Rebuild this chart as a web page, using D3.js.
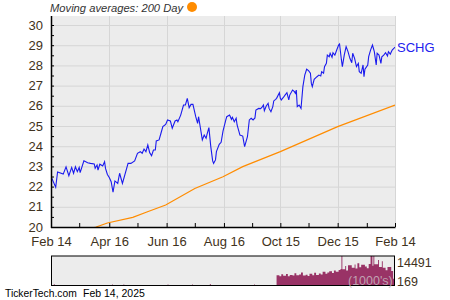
<!DOCTYPE html>
<html><head><meta charset="utf-8">
<script src="https://cdn.jsdelivr.net/npm/d3@7"></script>
<style>html,body{margin:0;padding:0;background:#fff;} svg{display:block;font-family:"Liberation Sans",Arial,sans-serif;}</style>
</head><body><svg id="c" width="450" height="300"></svg>
<script>
const priceDates = ["2024-02-14","2024-02-19","2024-02-21","2024-02-27","2024-03-01","2024-03-04","2024-03-07","2024-03-09","2024-03-11","2024-03-13","2024-03-15","2024-03-16","2024-03-20","2024-03-24","2024-03-27","2024-03-31","2024-04-01","2024-04-03","2024-04-04","2024-04-06","2024-04-09","2024-04-11","2024-04-12","2024-04-14","2024-04-16","2024-04-18","2024-04-20","2024-04-22","2024-04-25","2024-04-27","2024-04-30","2024-05-06","2024-05-09","2024-05-13","2024-05-16","2024-05-19","2024-05-21","2024-05-23","2024-05-25","2024-05-27","2024-05-29","2024-05-31","2024-06-02","2024-06-04","2024-06-05","2024-06-08","2024-06-10","2024-06-12","2024-06-15","2024-06-17","2024-06-20","2024-06-22","2024-06-25","2024-06-27","2024-06-28","2024-07-01","2024-07-04","2024-07-06","2024-07-08","2024-07-10","2024-07-12","2024-07-14","2024-07-17","2024-07-19","2024-07-20","2024-07-22","2024-07-24","2024-07-26","2024-07-28","2024-07-29","2024-07-31","2024-08-02","2024-08-04","2024-08-05","2024-08-07","2024-08-08","2024-08-11","2024-08-13","2024-08-15","2024-08-18","2024-08-19","2024-08-22","2024-08-24","2024-08-25","2024-08-27","2024-08-29","2024-08-30","2024-09-01","2024-09-02","2024-09-05","2024-09-07","2024-09-10","2024-09-12","2024-09-14","2024-09-16","2024-09-18","2024-09-19","2024-09-22","2024-09-24","2024-09-26","2024-09-27","2024-09-28","2024-09-30","2024-10-02","2024-10-03","2024-10-05","2024-10-07","2024-10-08","2024-10-10","2024-10-11","2024-10-14","2024-10-15","2024-10-16","2024-10-18","2024-10-20","2024-10-22","2024-10-24","2024-10-25","2024-10-28","2024-10-30","2024-10-31","2024-11-01","2024-11-02","2024-11-04","2024-11-06","2024-11-08","2024-11-10","2024-11-12","2024-11-14","2024-11-16","2024-11-17","2024-11-18","2024-11-20","2024-11-23","2024-11-25","2024-11-27","2024-11-28","2024-11-30","2024-12-01","2024-12-03","2024-12-04","2024-12-06","2024-12-07","2024-12-09","2024-12-10","2024-12-12","2024-12-14","2024-12-16","2024-12-17","2024-12-19","2024-12-20","2024-12-22","2024-12-24","2024-12-26","2024-12-28","2024-12-30","2024-12-31","2025-01-02","2025-01-04","2025-01-06","2025-01-07","2025-01-09","2025-01-11","2025-01-12","2025-01-13","2025-01-16","2025-01-17","2025-01-19","2025-01-21","2025-01-22","2025-01-23","2025-01-25","2025-01-26","2025-01-28","2025-01-30","2025-01-31","2025-02-02","2025-02-04","2025-02-06","2025-02-07","2025-02-09","2025-02-11","2025-02-13","2025-02-14"];
const priceValues = [22.50,21.97,22.72,22.62,22.98,22.54,22.95,22.66,22.98,22.74,22.95,22.69,23.28,23.18,23.15,23.12,22.91,23.07,22.82,23.11,23.02,23.23,22.90,22.60,22.45,22.24,21.72,22.28,22.16,22.66,22.16,23.15,23.15,23.27,23.65,23.73,23.65,23.86,23.73,24.06,23.68,23.53,23.81,23.81,24.26,24.31,24.64,24.97,25.08,25.30,25.25,24.89,25.25,25.30,25.21,25.54,26.04,26.04,26.37,25.91,26.07,26.07,25.46,25.13,25.46,24.89,24.31,24.55,24.39,24.59,24.92,23.98,23.27,23.15,23.32,23.73,24.09,24.19,24.75,25.30,25.46,25.54,25.33,25.43,25.21,25.38,25.05,24.72,24.55,24.50,23.98,24.47,25.30,25.38,25.30,25.40,25.79,25.87,25.86,25.96,26.04,25.76,25.99,26.12,25.87,25.71,25.96,26.24,26.32,26.37,26.65,26.37,26.29,26.40,26.53,26.65,26.29,26.53,26.78,26.70,26.62,26.78,25.96,26.04,25.87,26.95,27.52,27.81,27.74,27.61,27.11,26.95,27.31,27.44,27.52,27.48,27.69,27.61,27.94,28.10,28.51,28.43,28.60,28.40,28.63,28.51,28.76,29.01,29.06,28.27,27.94,28.51,28.93,28.68,28.35,28.13,28.60,28.35,27.94,28.10,27.69,27.61,28.02,27.44,27.81,28.02,28.43,28.76,29.01,28.85,28.68,28.02,28.60,28.51,28.10,28.43,28.51,28.63,28.47,28.68,28.56,28.76,28.85,28.90];
const maDates = ["2024-03-20","2024-04-02","2024-04-14","2024-05-11","2024-05-26","2024-06-15","2024-07-16","2024-08-15","2024-09-05","2024-10-15","2024-12-15","2025-02-14"];
const maValues = [19.80,20.00,20.20,20.48,20.74,21.09,21.91,22.49,22.99,23.73,24.97,26.04];
const volDates = ["2024-02-14","2024-02-17","2024-02-18","2024-04-19","2024-04-20","2024-05-01","2024-05-02","2024-06-17","2024-06-18","2024-07-13","2024-07-14","2024-08-01","2024-08-02","2024-09-17","2024-09-18","2024-10-11","2024-10-14","2024-10-16","2024-10-18","2024-10-21","2024-10-23","2024-10-25","2024-10-28","2024-10-30","2024-11-01","2024-11-04","2024-11-06","2024-11-08","2024-11-11","2024-11-13","2024-11-15","2024-11-18","2024-11-20","2024-11-22","2024-11-25","2024-11-27","2024-11-29","2024-12-02","2024-12-04","2024-12-06","2024-12-09","2024-12-11","2024-12-13","2024-12-16","2024-12-18","2024-12-19","2024-12-20","2024-12-23","2024-12-24","2024-12-26","2024-12-30","2025-01-02","2025-01-03","2025-01-05","2025-01-07","2025-01-09","2025-01-13","2025-01-15","2025-01-17","2025-01-19","2025-01-21","2025-01-22","2025-01-23","2025-01-27","2025-01-28","2025-01-31","2025-02-01","2025-02-04","2025-02-06","2025-02-10","2025-02-12","2025-02-14"];
const volValues = [169,750,169,600,169,650,169,600,169,700,169,900,169,600,169,5200,4600,5600,4900,5800,4700,5300,5000,6100,5100,5500,6500,5000,5400,4800,5900,5200,6300,5300,6000,5500,6800,5900,6500,7100,6200,7400,6800,7700,8200,14491,8000,9600,7400,10000,8800,10400,8400,11000,9000,10200,9400,8600,10600,14491,9800,14491,10500,12500,9200,12000,8800,7600,9200,7200,3400,3400];
const xTickDates = ["2024-02-14","2024-04-16","2024-06-16","2024-08-16","2024-10-15","2024-12-15","2025-02-14"];
const xTickLabels = ["Feb 14","Apr 16","Jun 16","Aug 16","Oct 15","Dec 15","Feb 14"];
const xMinorDates = ["2024-03-15","2024-05-16","2024-07-16","2024-09-15","2024-11-14","2025-01-15"];
const yTicks = [20,21,22,23,24,25,26,27,28,29,30];
const yMinorTicks = [20.5,21.5,22.5,23.5,24.5,25.5,26.5,27.5,28.5,29.5];
const volTickLabels = ["14491","169"];
const volRange = [169,14491];
const seriesName = "SCHG";
const legendText = "Moving averages: 200 Day";
const footerSite = "TickerTech.com";
const footerDate = "Feb 14, 2025";

const parse = d3.timeParse("%Y-%m-%d");
const svg = d3.select("#c");
const L = 51, R = 395, T = 16, B = 227;
const x = d3.scaleTime().domain([parse("2024-02-14"), parse("2025-02-14")]).range([L, R]);
const y = d3.scaleLinear().domain([20, 30]).range([B, 25]);
const labelColor = "#3f3220";

// legend
svg.append("text").attr("x", 50).attr("y", 12).attr("font-size", 11.2).attr("font-style", "italic")
  .attr("fill", "#333").text(legendText);
svg.append("circle").attr("cx", 192).attr("cy", 7).attr("r", 5).attr("fill", "#ff8c00");

// plot background
svg.append("rect").attr("x", L).attr("y", T).attr("width", R - L).attr("height", B - T).attr("fill", "#ececec");
// grid
svg.append("g").selectAll("line").data(yTicks).join("line")
  .attr("x1", L).attr("x2", R).attr("y1", d => y(d) + 0.5).attr("y2", d => y(d) + 0.5)
  .attr("stroke", "#d6d6d6").attr("stroke-width", 1);
svg.append("g").selectAll("line").data(xTickDates.slice(1)).join("line")
  .attr("x1", d => Math.round(x(parse(d))) + 0.5).attr("x2", d => Math.round(x(parse(d))) + 0.5)
  .attr("y1", T).attr("y2", B).attr("stroke", "#d6d6d6").attr("stroke-width", 1);

svg.append("clipPath").attr("id", "clip").append("rect").attr("x", L).attr("y", T).attr("width", R - L).attr("height", B - T);

const ma = maDates.map((d, i) => [parse(d), maValues[i]]);
svg.append("path").datum(ma).attr("clip-path", "url(#clip)")
  .attr("d", d3.line().x(d => x(d[0])).y(d => y(d[1])))
  .attr("fill", "none").attr("stroke", "#ff8c00").attr("stroke-width", 1.2);

const price = priceDates.map((d, i) => [parse(d), priceValues[i]]);
svg.append("path").datum(price).attr("clip-path", "url(#clip)")
  .attr("d", d3.line().x(d => x(d[0])).y(d => y(d[1])))
  .attr("fill", "none").attr("stroke", "#1a1aee").attr("stroke-width", 1.1);

svg.append("text").attr("x", 397).attr("y", y(price[price.length - 1][1]) + 4.5)
  .attr("font-size", 13).attr("fill", "#2222ee").text(seriesName);

// axes
svg.append("g").attr("transform", `translate(${L},0)`)
  .call(d3.axisLeft(y).tickValues(yTicks).tickSize(-3).tickPadding(8).tickFormat(d3.format("d")));
svg.append("g").attr("transform", `translate(${L},0)`)
  .call(d3.axisLeft(y).tickValues(yMinorTicks).tickSize(-3).tickFormat(""));
svg.append("g").attr("transform", `translate(0,${B})`)
  .call(d3.axisBottom(x).tickValues(xTickDates.map(parse)).tickSize(-4).tickPadding(10)
    .tickFormat((d, i) => xTickLabels[i]));
svg.append("g").attr("transform", `translate(0,${B})`)
  .call(d3.axisBottom(x).tickValues(xMinorDates.map(parse)).tickSize(-4).tickFormat(""));
svg.selectAll(".domain").remove();
svg.selectAll(".tick line").attr("stroke", "#000");
svg.selectAll(".tick text").attr("font-size", 13).attr("fill", labelColor).attr("font-family", '"Liberation Sans",Arial,sans-serif');
svg.append("line").attr("x1", L + 0.5).attr("x2", L + 0.5).attr("y1", T).attr("y2", B + 1).attr("stroke", "#000").attr("stroke-width", 1.5);
svg.append("line").attr("x1", L).attr("x2", R + 0.5).attr("y1", B + 0.5).attr("y2", B + 0.5).attr("stroke", "#000").attr("stroke-width", 1.5);

// volume panel
const VT = 256, VB = 285.5;
const vy = d3.scaleLinear().domain(volRange).range([VB, VT]);
svg.append("rect").attr("x", L + 0.5).attr("y", VT).attr("width", R - L - 1).attr("height", VB - VT).attr("fill", "#ececec");
const vol = volDates.map((d, i) => [parse(d), volValues[i]]);
svg.append("path").datum(vol)
  .attr("d", d3.area().curve(d3.curveStepAfter).x(d => x(d[0])).y0(VB).y1(d => vy(d[1])))
  .attr("fill", "#993366");
svg.append("rect").attr("x", L + 0.5).attr("y", VT).attr("width", R - L - 1).attr("height", VB - VT)
  .attr("fill", "none").attr("stroke", "#000").attr("stroke-width", 1);
svg.append("text").attr("x", 348).attr("y", 285).attr("font-size", 12.5).attr("fill", "#c8b8c0")
  .attr("fill-opacity", 0.85).text("(1000's)");
svg.append("text").attr("x", 397).attr("y", 266.5).attr("font-size", 12.5).attr("fill", labelColor).text(volTickLabels[0]);
svg.append("text").attr("x", 397).attr("y", 285.5).attr("font-size", 12.5).attr("fill", labelColor).text(volTickLabels[1]);

// footer
svg.append("text").attr("x", 5).attr("y", 297).attr("font-size", 10.3).attr("fill", "#000").text(footerSite);
svg.append("text").attr("x", 83).attr("y", 297).attr("font-size", 10.5).attr("fill", "#000").text(footerDate);
</script></body></html>
